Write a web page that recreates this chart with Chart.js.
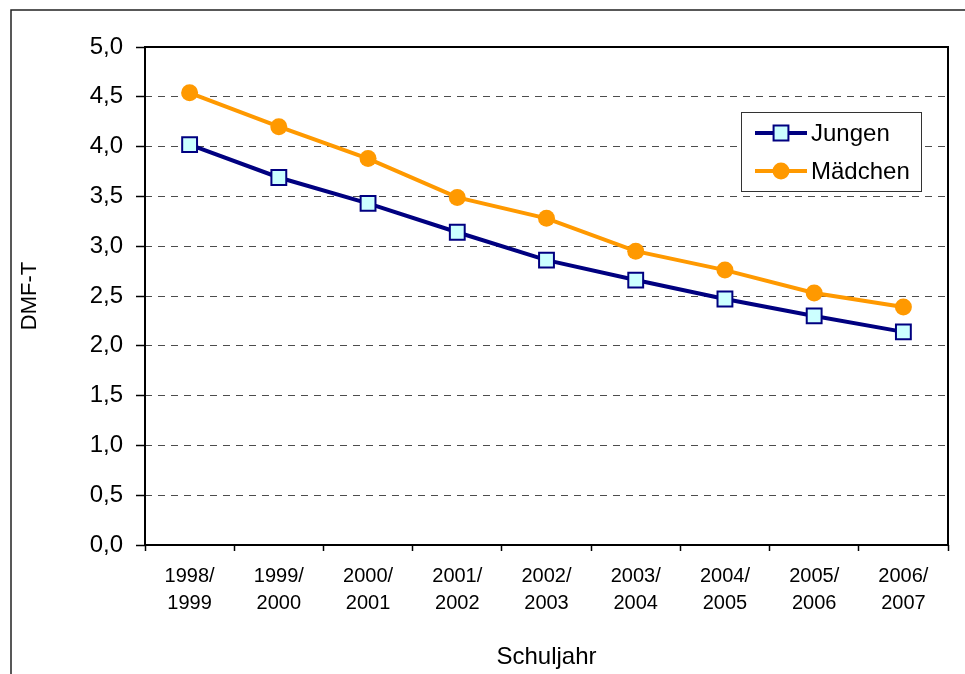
<!DOCTYPE html>
<html lang="de">
<head>
<meta charset="utf-8">
<title>DMF-T nach Schuljahr</title>
<script src="https://cdn.jsdelivr.net/npm/chart.js@4/dist/chart.umd.min.js"></script>
<style>
  html, body { margin: 0; padding: 0; background: #fff; }
  #chartDmft { display: block; }
</style>
</head>
<body>
<canvas id="chartDmft" width="965" height="674"></canvas>
<script>
// Daten
const schuljahre = [
    ['1998/', '1999'], ['1999/', '2000'], ['2000/', '2001'],
    ['2001/', '2002'], ['2002/', '2003'], ['2003/', '2004'],
    ['2004/', '2005'], ['2005/', '2006'], ['2006/', '2007']
];
const jungen = [4.02, 3.69, 3.43, 3.14, 2.86, 2.66, 2.47, 2.30, 2.14];
const maedchen = [4.54, 4.20, 3.88, 3.49, 3.28, 2.95, 2.76, 2.53, 2.39];
const yTicks = [0, 0.5, 1, 1.5, 2, 2.5, 3, 3.5, 4, 4.5, 5];

const schrift = 'Liberation Sans, Arial, sans-serif';

// Rahmen um Plotfläche + äußerer Rahmen
const rahmenPlugin = {
    id: 'rahmen',
    afterDraw(chart) {
        const { ctx, chartArea: a } = chart;
        ctx.save();
        ctx.strokeStyle = '#000';
        ctx.lineWidth = 2;
        ctx.strokeRect(a.left, a.top, a.right - a.left, a.bottom - a.top);
        ctx.lineWidth = 1.5;
        ctx.strokeStyle = '#222';
        ctx.beginPath();
        ctx.moveTo(11, chart.height);
        ctx.lineTo(11, 10);
        ctx.lineTo(chart.width, 10);
        ctx.stroke();
        ctx.restore();
    }
};

// Legende im Kasten oben rechts
const legendePlugin = {
    id: 'legende',
    afterDraw(chart) {
        const ctx = chart.ctx;
        const box = { x: 741, y: 112, w: 180, h: 79 };
        ctx.save();
        ctx.fillStyle = '#fff';
        ctx.fillRect(box.x, box.y, box.w, box.h);
        ctx.strokeStyle = '#333';
        ctx.lineWidth = 1;
        ctx.strokeRect(box.x + 0.5, box.y + 0.5, box.w, box.h);
        chart.data.datasets.forEach((ds, i) => {
            const y = box.y + 21 + i * 38;
            ctx.strokeStyle = ds.borderColor;
            ctx.lineWidth = ds.borderWidth;
            ctx.beginPath();
            ctx.moveTo(755, y);
            ctx.lineTo(807, y);
            ctx.stroke();
            ctx.fillStyle = ds.pointBackgroundColor;
            ctx.strokeStyle = ds.pointBorderColor;
            ctx.lineWidth = ds.pointBorderWidth;
            ctx.beginPath();
            if (ds.pointStyle === 'rect') {
                const s = ds.pointRadius * Math.SQRT1_2;
                ctx.rect(781 - s, y - s, 2 * s, 2 * s);
            } else {
                ctx.arc(781, y, ds.pointRadius, 0, Math.PI * 2);
            }
            ctx.fill();
            if (ds.pointBorderWidth) ctx.stroke();
            ctx.fillStyle = '#000';
            ctx.font = '24px ' + schrift;
            ctx.textBaseline = 'middle';
            ctx.fillText(ds.label, 811, y + 1);
        });
        ctx.restore();
    }
};

new Chart(document.getElementById('chartDmft'), {
    type: 'line',
    data: {
        labels: schuljahre,
        datasets: [
            {
                label: 'Jungen',
                data: jungen,
                borderColor: '#000080',
                borderWidth: 4,
                pointStyle: 'rect',
                pointRadius: 10.5,
                pointHoverRadius: 10.5,
                pointBackgroundColor: '#CCFFFF',
                pointBorderColor: '#000080',
                pointBorderWidth: 2,
                tension: 0
            },
            {
                label: 'Mädchen',
                data: maedchen,
                borderColor: '#FF9900',
                borderWidth: 4,
                pointStyle: 'circle',
                pointRadius: 8.5,
                pointHoverRadius: 8.5,
                pointBackgroundColor: '#FF9900',
                pointBorderColor: '#FF9900',
                pointBorderWidth: 0,
                tension: 0
            }
        ]
    },
    options: {
        responsive: false,
        animation: false,
        devicePixelRatio: 1,
        layout: { padding: { left: 0, top: 47, right: 17, bottom: 0 } },
        plugins: {
            legend: { display: false },
            tooltip: { enabled: false }
        },
        scales: {
            x: {
                offset: true,
                afterFit: (s) => { s.height = 129; },
                grid: {
                    offset: true,
                    drawOnChartArea: false,
                    drawTicks: true,
                    tickLength: 6,
                    tickColor: '#000',
                    tickWidth: 1.5
                },
                border: { display: false },
                ticks: {
                    color: '#000',
                    padding: 12,
                    maxRotation: 0,
                    font: { family: schrift, size: 20, lineHeight: 1.35 }
                },
                title: {
                    display: true,
                    text: 'Schuljahr',
                    color: '#000',
                    padding: { top: 0, bottom: 2 },
                    font: { family: schrift, size: 24 }
                }
            },
            y: {
                min: 0,
                max: 5,
                afterFit: (s) => { s.width = 145; },
                afterBuildTicks: (s) => { s.ticks = yTicks.map(v => ({ value: v })); },
                grid: {
                    color: '#4d4d4d',
                    lineWidth: 1,
                    tickLength: 9,
                    tickColor: '#000',
                    tickWidth: 1.5,
                    tickBorderDash: []
                },
                border: { display: false, dash: [7, 6] },
                ticks: {
                    color: '#000',
                    padding: 13,
                    font: { family: schrift, size: 24 },
                    callback: (v) => Number(v).toFixed(1).replace('.', ',')
                },
                title: {
                    display: true,
                    text: 'DMF-T',
                    color: '#000',
                    padding: { top: 17, bottom: 0 },
                    font: { family: schrift, size: 22 }
                }
            }
        }
    },
    plugins: [rahmenPlugin, legendePlugin]
});
</script>
</body>
</html>
